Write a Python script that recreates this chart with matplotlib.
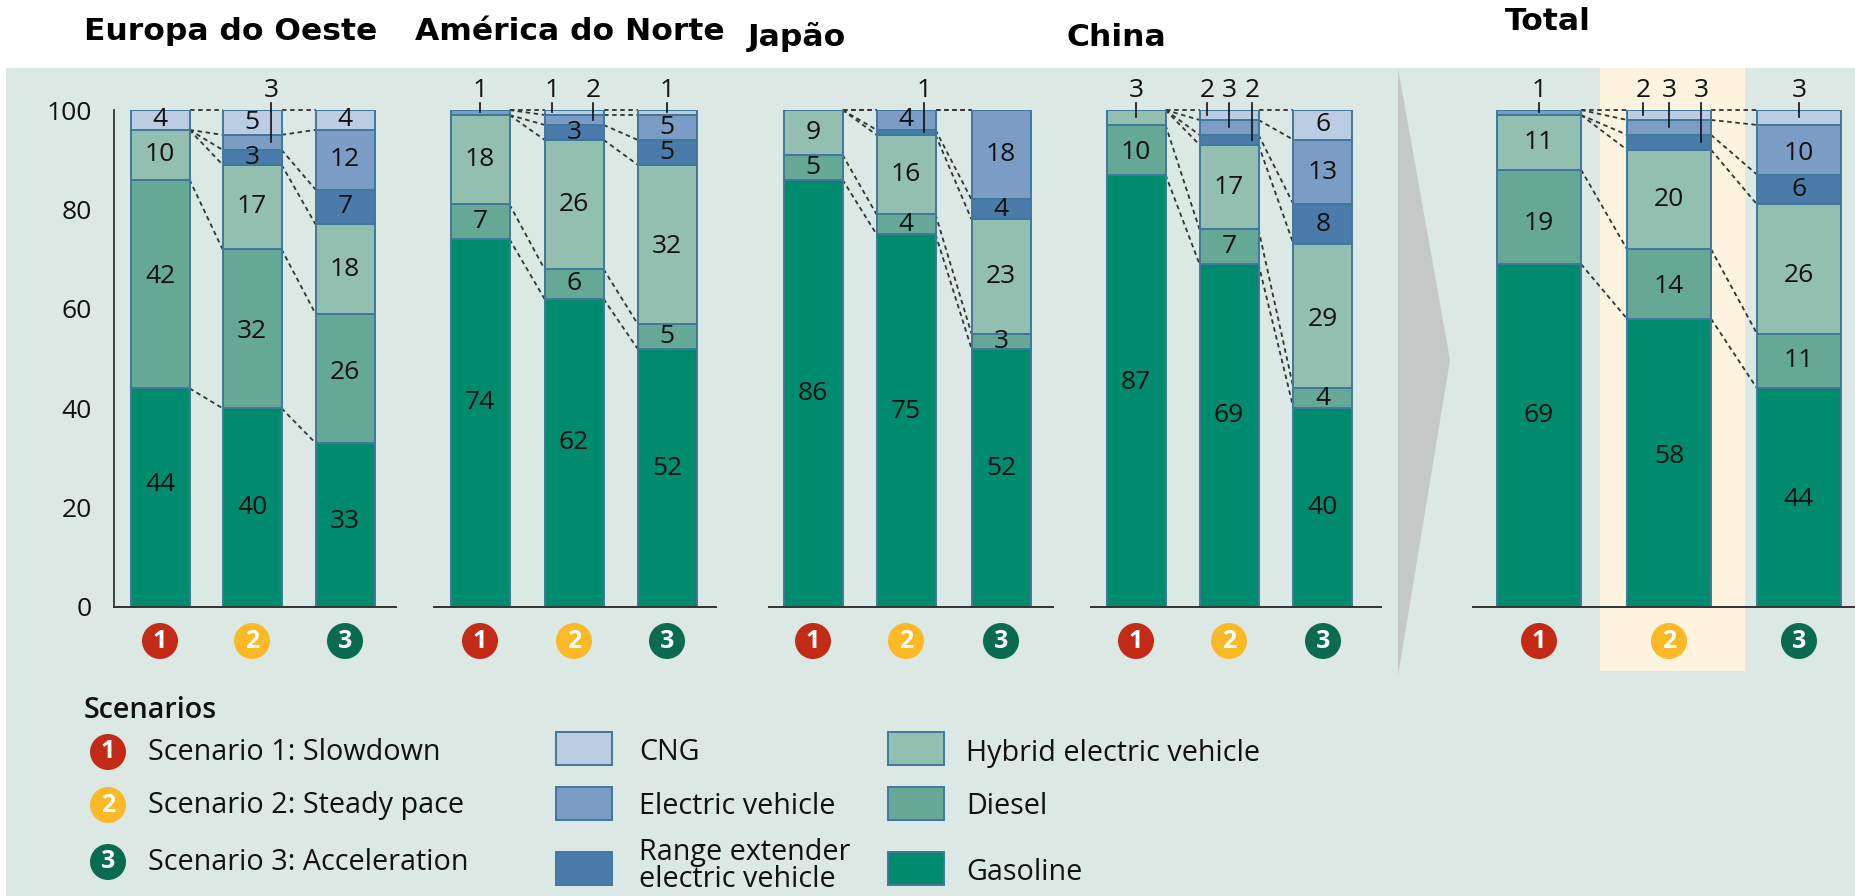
import matplotlib
matplotlib.use("Agg")
import matplotlib.pyplot as plt
from matplotlib.patches import Rectangle, Polygon, Circle
import numpy as np

W, H = 1855, 896

regions = ["Europa do Oeste", "América do Norte", "Japão", "China", "Total"]
series = ["Gasoline", "Diesel", "Hybrid electric vehicle",
          "Range extender\nelectric vehicle", "Electric vehicle", "CNG"]
gasoline = [[44, 40, 33], [74, 62, 52], [86, 75, 52], [87, 69, 40], [69, 58, 44]]
diesel   = [[42, 32, 26], [7, 6, 5],    [5, 4, 3],    [10, 7, 4],   [19, 14, 11]]
hybrid   = [[10, 17, 18], [18, 26, 32], [9, 16, 23],  [3, 17, 29],  [11, 20, 26]]
range_ex = [[0, 3, 7],    [0, 3, 5],    [0, 1, 4],    [0, 2, 8],    [0, 3, 6]]
electric = [[0, 3, 12],   [1, 2, 5],    [0, 4, 18],   [0, 3, 13],   [1, 3, 10]]
cng      = [[4, 5, 4],    [0, 1, 1],    [0, 0, 0],    [0, 2, 6],    [0, 2, 3]]
y_ticks = [0, 20, 40, 60, 80, 100]
scenario_labels = ["Scenario 1: Slowdown", "Scenario 2: Steady pace", "Scenario 3: Acceleration"]

# layout: axis span and bar centres in pixels
spans = [(114, 396), (434, 716), (769, 1053), (1091, 1381), (1473, 1855)]
centres = [(160, 252, 345), (480, 574, 667), (813, 906, 1001), (1136, 1229, 1323), (1539, 1669, 1799)]
bar_px = [59, 59, 59, 59, 84]
# callouts: panel, scenario, series index, x offset in px
callouts = [(0, 1, 4, 19), (1, 0, 4, 0), (1, 1, 5, -22), (1, 1, 4, 19), (1, 2, 5, 0),
            (2, 1, 3, 18), (3, 0, 2, 0), (3, 1, 5, -22), (3, 1, 4, 0), (3, 1, 3, 23),
            (4, 0, 4, 0), (4, 1, 5, -26), (4, 1, 4, 0), (4, 1, 3, 32), (4, 2, 5, 0)]
# label nudges in px (positive = up): panel, scenario, series -> dy
label_nudge = {(0, 0, 0): 13, (0, 2, 0): 3, (1, 0, 0): 21, (1, 1, 0): 10, (1, 2, 0): 9,
               (2, 1, 0): 9, (2, 2, 0): 9, (3, 0, 0): 8, (3, 1, 0): 20, (4, 0, 0): 20,
               (4, 1, 0): 6, (4, 2, 0): -2, (0, 0, 1): 7, (0, 1, 1): -3, (0, 2, 1): 6,
               (4, 0, 1): -7, (4, 1, 1): -3, (4, 2, 2): -6, (4, 2, 4): -4, (3, 2, 2): -3,
               (3, 0, 1): -3, (1, 2, 2): -2}

colors = ["#008a6e", "#66a896", "#93bfb0", "#4a7bab", "#7b9cc4", "#bccde3"]
edge = "#3f789c"
bg_col = "#dbe8e4"
badge_cols = ["#c42b16", "#fbb827", "#0a6b50"]
ink = "#111111"
FS = 19
LFS = 20.7
plt.rcParams["font.family"] = "Open Sans"

fig = plt.figure(figsize=(W / 100, H / 100), dpi=100, facecolor="white")

# pixel-coordinate backdrop
bg = fig.add_axes([0, 0, 1, 1], zorder=0)
bg.set_xlim(0, W); bg.set_ylim(H, 0); bg.axis("off")
bg.add_patch(Rectangle((6, 68), W - 6, H - 68, fc=bg_col, ec="none"))
bg.add_patch(Rectangle((1600, 68), 145, 603, fc="#fdf3df", ec="none"))
bg.add_patch(Polygon([(1398, 68), (1450, 360), (1398, 676)], fc="#c6c7c7", ec="none"))

title_pos = [(84, 31), (415, 31), (748, 37), (1066, 37), (1505, 21)]
for t, (x, y) in zip(regions, title_pos):
    bg.text(x, y, t, family="DejaVu Sans", weight="bold", fontsize=22.6, ha="left", va="center", color="black")

def badge(ax, x, y, i, r=18):
    ax.add_patch(Circle((x, y), r, fc=badge_cols[i], ec="none", zorder=3))
    ax.text(x, y, str(i + 1), color="white", weight="bold", fontsize=18, ha="center", va="center", zorder=4)

stack = np.array([gasoline, diesel, hybrid, range_ex, electric, cng], dtype=float)  # series, panel, scen

for p in range(5):
    x0, x1 = spans[p]
    c = centres[p]
    step = (c[2] - c[0]) / 2
    ax = fig.add_axes([x0 / W, 1 - 607 / H, (x1 - x0) / W, 497 / H], zorder=2)
    ax.patch.set_alpha(0)
    ax.set_xlim((x0 - c[0]) / step, (x1 - c[0]) / step)
    ax.set_ylim(0, 100)
    width = bar_px[p] / step
    xs = np.array([(v - c[0]) / step for v in c])
    vals = stack[:, p, :]
    cum = np.cumsum(vals, axis=0)
    bottoms = np.vstack([np.zeros(3), cum[:-1]])
    for s in range(6):
        ax.bar(xs, vals[s], width, bottom=bottoms[s], color=colors[s], edgecolor=edge, linewidth=1.4, zorder=2)
    # connectors
    for s in range(6):
        for b in range(2):
            ax.plot([xs[b] + width / 2, xs[b + 1] - width / 2], [cum[s, b], cum[s, b + 1]],
                    ls=(0, (2.5, 2)), color="#333333", lw=1.3, zorder=1, clip_on=False)
    hidden = {(sc, s) for (pp, sc, s, _) in callouts if pp == p}
    for b in range(3):
        for s in range(6):
            if vals[s, b] > 0 and (b, s) not in hidden:
                nudge = label_nudge.get((p, b, s), 0) * 100 / 497
                ax.text(xs[b], bottoms[s, b] + vals[s, b] / 2 + nudge, f"{vals[s, b]:.0f}", ha="center", va="center",
                        fontsize=FS, color=ink, zorder=5)
    for (pp, sc, s, off) in callouts:
        if pp != p:
            continue
        xx = xs[sc] + off / step
        ymid = bottoms[s, sc] + vals[s, sc] / 2
        ax.plot([xx, xx], [101.5, ymid], color="#111111", lw=1.2, zorder=6, clip_on=False)
        ax.text(xx, 103.9, f"{vals[s, sc]:.0f}", ha="center", va="center", fontsize=FS, color=ink, zorder=6)
    for side in ("top", "right"):
        ax.spines[side].set_visible(False)
    ax.spines["bottom"].set_color("#333333"); ax.spines["bottom"].set_linewidth(1.4)
    ax.set_xticks([])
    if p == 0:
        ax.spines["left"].set_color("#333333"); ax.spines["left"].set_linewidth(1.3)
        ax.set_yticks(y_ticks)
        ax.tick_params(axis="y", length=0, pad=16, labelsize=FS, labelcolor=ink)
    else:
        ax.spines["left"].set_visible(False)
        ax.set_yticks([])
    for i, cx in enumerate(c):
        badge(bg, cx, 641, i)

# legend
bg.text(84, 710, "Scenarios", fontsize=LFS, weight="semibold", color=ink, ha="left", va="center")
for i, (lab, y) in enumerate(zip(scenario_labels, (752, 805, 862))):
    badge(bg, 108, y, i)
    bg.text(148, y, lab, fontsize=LFS, color=ink, ha="left", va="center")

swatches = [(556, 732, 5, 639, 753), (556, 787, 4, 639, 806), (556, 852, 3, 639, 866),
            (888, 732, 2, 966, 753), (888, 787, 1, 966, 806), (888, 852, 0, 966, 873)]
for sx, sy, s, tx, ty in swatches:
    bg.add_patch(Rectangle((sx, sy), 56, 33, fc=colors[s], ec=edge, lw=1.4))
    bg.text(tx, ty, series[s], fontsize=LFS, color=ink, ha="left", va="center", linespacing=0.9)

fig.savefig("out.png", dpi=100)
